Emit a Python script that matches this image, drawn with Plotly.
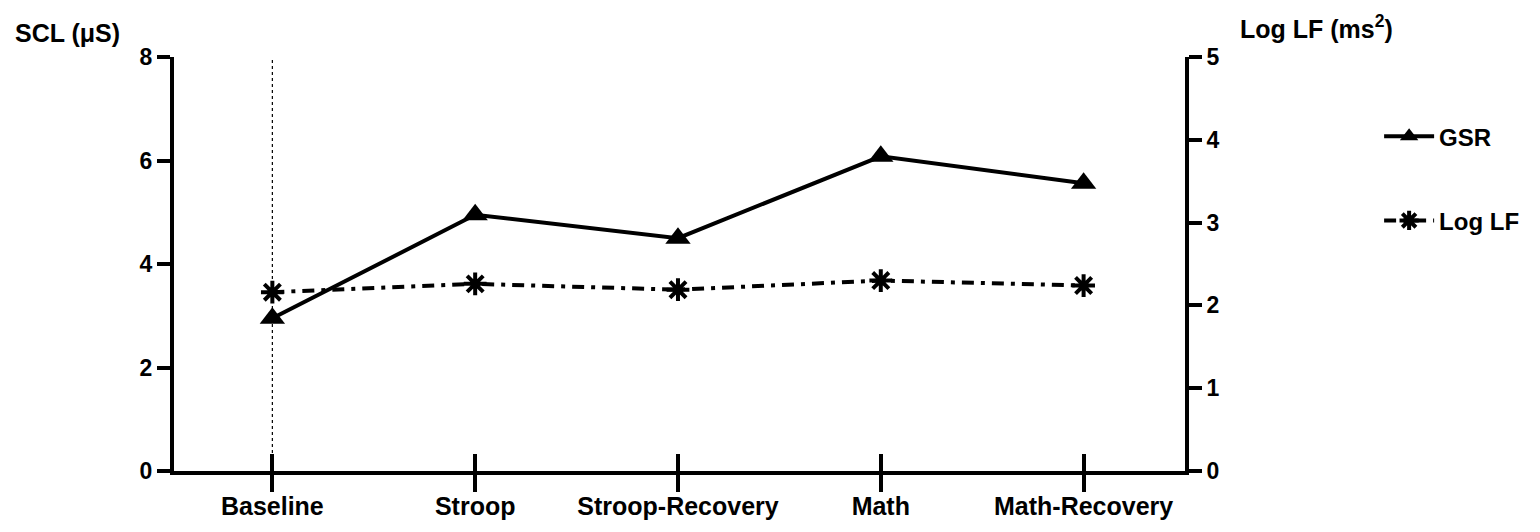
import plotly.graph_objects as go

# conditions and values
conditions = ["Baseline", "Stroop", "Stroop-Recovery", "Math", "Math-Recovery"]
gsr = [2.95, 4.95, 4.50, 6.08, 5.56]
log_lf = [2.16, 2.26, 2.19, 2.30, 2.24]

x_pos = list(range(len(conditions)))
bold = dict(family="Liberation Sans, Arial", size=23, color="black", weight="bold")

fig = go.Figure()

fig.add_trace(go.Scatter(
    x=x_pos, y=gsr, name="GSR", mode="lines+markers",
    line=dict(color="black", width=4),
    marker=dict(symbol="triangle-up", size=22, color="black"),
    legendgroup="a",
))
fig.add_trace(go.Scatter(
    x=x_pos, y=log_lf, name="Log LF", mode="lines+markers", yaxis="y2",
    line=dict(color="black", width=4, dash="12px,7px,4px,7px"),
    marker=dict(symbol="asterisk-open", size=19, line=dict(color="black", width=4)),
    legendgroup="b",
))

# dotted baseline reference
fig.add_vline(x=0, line=dict(color="black", width=1.2, dash="dot"), layer="below")

fig.update_layout(
    width=1540, height=532,
    margin=dict(l=166, r=363, t=49, b=69),
    paper_bgcolor="white", plot_bgcolor="white",
    font=bold,
    showlegend=True,
    legend=dict(x=1.192, y=0.862, xanchor="left", yanchor="top",
                font=dict(size=24, weight="bold"), tracegroupgap=50,
                traceorder="grouped", itemwidth=50),
    xaxis=dict(
        range=[-0.485, 4.5], tickmode="array", tickvals=x_pos, ticktext=conditions,
        showgrid=False, zeroline=False, showline=True, linecolor="black", linewidth=4,
        ticks="outside", ticklen=17, tickwidth=4, tickcolor="black",
        minor=dict(tickmode="array", tickvals=x_pos, ticks="inside", ticklen=17,
                   tickwidth=4, tickcolor="black"),
        tickfont=dict(size=25, weight="bold"), ticklabelstandoff=-7,
    ),
    yaxis=dict(
        range=[0, 8], tickvals=[0, 2, 4, 6, 8], showgrid=False, zeroline=False,
        showline=True, linecolor="black", linewidth=4,
        ticks="outside", ticklen=13, tickwidth=4, tickcolor="black",
        tickfont=dict(size=23, weight="bold"),
    ),
    yaxis2=dict(
        range=[0, 5], tickvals=[0, 1, 2, 3, 4, 5], overlaying="y", side="right",
        showgrid=False, zeroline=False, showline=True, linecolor="black", linewidth=4,
        ticks="outside", ticklen=13, tickwidth=4, tickcolor="black",
        tickfont=dict(size=23, weight="bold"),
    ),
    annotations=[
        dict(text="SCL (μS)", xref="paper", yref="paper", x=-0.159, y=1.058,
             xanchor="left", yanchor="middle", showarrow=False,
             font=dict(size=25, weight="bold")),
        dict(text="Log LF (ms<sup>2</sup>)", xref="paper", yref="paper", x=1.052, y=1.072,
             xanchor="left", yanchor="middle", showarrow=False,
             font=dict(size=25, weight="bold")),
    ],
)

fig.write_html("out.html")
